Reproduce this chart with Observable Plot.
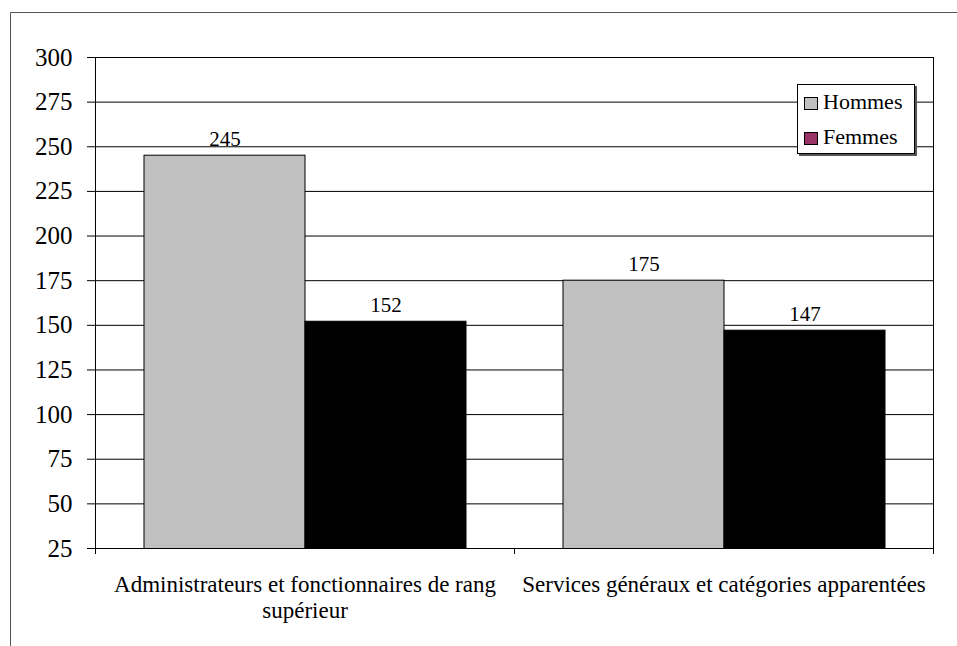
<!DOCTYPE html>
<html>
<head>
<meta charset="utf-8">
<script src="https://cdn.jsdelivr.net/npm/d3@7"></script>
<script src="https://cdn.jsdelivr.net/npm/@observablehq/plot@0.6"></script>
<style>
  html, body { margin: 0; padding: 0; background: #fff; }
  #chart svg { display: block; }
  #chart svg, #chart svg text { font-family: "Liberation Serif", "Times New Roman", serif !important; }
</style>
</head>
<body>
<div id="chart"></div>
<script>
const categories = [
  "Administrateurs et fonctionnaires de rang supérieur",
  "Services généraux et catégories apparentées"
];
const categoryLabels = [
  "Administrateurs et fonctionnaires de rang\nsupérieur",
  "Services généraux et catégories apparentées"
];
const series = ["Hommes", "Femmes"];
const hommes = [245, 175];
const femmes = [152, 147];
const yTicks = [25, 50, 75, 100, 125, 150, 175, 200, 225, 250, 275, 300];
const barColors = ["#c0c0c0", "#000000"];
const legendColors = ["#c0c0c0", "#993366"];

const data = categories.flatMap((c, i) => [
  {category: c, sex: series[0], value: hommes[i]},
  {category: c, sex: series[1], value: femmes[i]}
]);

const FONT = '"Liberation Serif", "Times New Roman", serif';

const chart = Plot.plot({
  width: 957,
  height: 646,
  marginLeft: 94,
  marginRight: 24,
  marginTop: 57,
  marginBottom: 98,
  style: {fontFamily: FONT, background: "#fff", color: "#000"},
  fx: {domain: categories, padding: 0, label: null},
  x: {domain: series, paddingInner: 0, paddingOuter: 0.3, axis: null},
  y: {domain: [25, 300], label: null},
  color: {domain: series, range: barColors},
  marks: [
    Plot.gridY(yTicks, {stroke: "#000", strokeOpacity: 1}),
    Plot.barY(data, {fx: "category", x: "sex", y: "value", fill: "sex", stroke: "#000", strokeWidth: 1, clip: true}),
    Plot.text(data, {fx: "category", x: "sex", y: "value", text: d => String(d.value), lineAnchor: "bottom", dy: -10, fontSize: 21, fill: "#000"}),
    Plot.axisY(yTicks, {tickSize: 8, tickPadding: 15, fontSize: 25, label: null}),
    Plot.axisFx({anchor: "bottom", tickSize: 0, tickPadding: 25, fontSize: 23, lineHeight: 1.13, label: null,
      tickFormat: d => categoryLabels[categories.indexOf(d)]}),
    Plot.frame({facet: "super", stroke: "#000"})
  ]
});

document.getElementById("chart").appendChild(chart);

const svg = d3.select(chart);
const fx = chart.scale("fx");
const y = chart.scale("y");
const y0 = y.apply(y.domain[0]);
const bounds = [];
fx.domain.forEach(d => { bounds.push(fx.apply(d)); });
bounds.push(fx.apply(fx.domain[fx.domain.length - 1]) + fx.bandwidth);
svg.append("g").attr("stroke", "#000").selectAll("line").data(bounds).join("line")
  .attr("x1", d => Math.round(d) + 0.5).attr("x2", d => Math.round(d) + 0.5)
  .attr("y1", y0).attr("y2", y0 + 6);

// outer chart-area border
svg.append("path").attr("d", "M10.5,646V12.5H957").attr("fill", "none").attr("stroke", "#555");

// legend
const lg = svg.append("g").attr("font-size", 22).attr("text-anchor", "start");
lg.append("rect").attr("x", 799).attr("y", 86).attr("width", 118).attr("height", 70).attr("fill", "#555");
lg.append("rect").attr("x", 797.5).attr("y", 84.5).attr("width", 117).attr("height", 69).attr("fill", "#fff").attr("stroke", "#000");
series.forEach((s, i) => {
  const yy = 97 + i * 35;
  lg.append("rect").attr("x", 804.5).attr("y", yy + 0.5).attr("width", 13).attr("height", 12)
    .attr("fill", legendColors[i]).attr("stroke", "#000");
  lg.append("text").attr("x", 823).attr("y", yy + 12).attr("fill", "#000").attr("text-anchor", "start").text(s);
});
</script>
</body>
</html>
